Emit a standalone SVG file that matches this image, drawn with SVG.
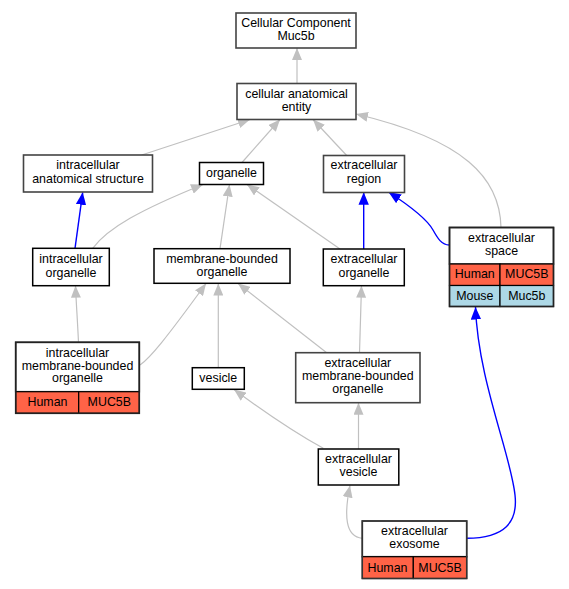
<svg xmlns="http://www.w3.org/2000/svg" width="569" height="589" viewBox="0 0 569 589">
<style>
text{font-family:"Liberation Sans",Arial,sans-serif;font-size:12.4px;fill:#000;text-anchor:middle}
.b{fill:#fff;stroke:#000;stroke-width:1.5}
.g{fill:#fff;stroke:#444;stroke-width:1.6}
.h{fill:#ff6347;stroke:#000;stroke-width:1.2}
.m{fill:#add8e6;stroke:#000;stroke-width:1.2}
.eg{fill:none;stroke:#c0c0c0;stroke-width:1.2}
.eb{fill:none;stroke:#0000ff;stroke-width:1.4}
</style>
<defs>
<marker id="ag" viewBox="0 0 12 10" refX="12" refY="5" markerWidth="12" markerHeight="10" markerUnits="userSpaceOnUse" orient="auto"><path d="M0,0L12,5L0,10z" fill="#c0c0c0"/></marker>
<marker id="ab" viewBox="0 0 12 10" refX="12" refY="5" markerWidth="12.5" markerHeight="10.5" markerUnits="userSpaceOnUse" orient="auto"><path d="M0,0L12,5L0,10z" fill="#0000ff"/></marker>
</defs>
<rect width="569" height="589" fill="#fff"/>
<g id="edges">
<path class="eg" marker-end="url(#ag)" d="M297,83.5L297,48"/>
<path class="eg" marker-end="url(#ag)" d="M141.7,155L250,119.5"/>
<path class="eg" marker-end="url(#ag)" d="M242,162.5L280,119.5"/>
<path class="eg" marker-end="url(#ag)" d="M346.7,155.5L313,119.5"/>
<path class="eg" marker-end="url(#ag)" d="M501,227.5C500,178 465,140 356,114"/>
<path class="eb" marker-end="url(#ab)" d="M75,248.3L82.7,192.3"/>
<path class="eg" marker-end="url(#ag)" d="M92.7,248.3C108,228 140,210 203,184.5"/>
<path class="eg" marker-end="url(#ag)" d="M220,248.7L229.5,184.5"/>
<path class="eg" marker-end="url(#ag)" d="M340,249L247,184.5"/>
<path class="eb" marker-end="url(#ab)" d="M363.7,249L363.7,192.3"/>
<path class="eb" marker-end="url(#ab)" d="M449.3,245C441,245 437,237 433,230C427,219 410,206 388.5,192"/>
<path class="eg" marker-end="url(#ag)" d="M78.5,342.3C77.5,320 76,300 75.5,285.7"/>
<path class="eg" marker-end="url(#ag)" d="M140,365C150,358 165,340 206,283.5"/>
<path class="eg" marker-end="url(#ag)" d="M218.3,367.7L218.3,283.5"/>
<path class="eg" marker-end="url(#ag)" d="M326.7,352.7L238,283.5"/>
<path class="eg" marker-end="url(#ag)" d="M359.5,352.7L361.5,285.7"/>
<path class="eg" marker-end="url(#ag)" d="M323.3,448.3C290,430 255,405 234,389.5"/>
<path class="eg" marker-end="url(#ag)" d="M358.5,449L358.5,402.7"/>
<path class="eg" marker-end="url(#ag)" d="M362.3,538.3C345,537 344,515 350,485.5"/>
<path class="eb" marker-end="url(#ab)" d="M466.7,538.3C505,538 518,522 515,495C511,455 478,380 475.5,307"/>
</g>
<g id="cc"><rect class="g" x="236" y="13" width="120" height="35"/><text x="296" y="26.8">Cellular Component</text><text x="296" y="39.5">Muc5b</text></g>
<g id="cae"><rect class="g" x="237" y="83.5" width="119" height="36"/><text x="296.5" y="97.7">cellular anatomical</text><text x="296.5" y="111">entity</text></g>
<g id="ias"><rect class="g" x="23.5" y="155" width="129" height="37"/><text x="88" y="169.3">intracellular</text><text x="88" y="182.7">anatomical structure</text></g>
<g id="organelle"><rect class="b" x="199.5" y="162.5" width="64" height="22"/><text x="231.5" y="176.7">organelle</text></g>
<g id="er"><rect class="g" x="323.5" y="155.5" width="81" height="37"/><text x="364" y="169.3">extracellular</text><text x="364" y="182.7">region</text></g>
<g id="es"><rect class="g" x="449.5" y="227.5" width="104" height="36.5"/><text x="501.5" y="242">extracellular</text><text x="501.5" y="255.3">space</text>
<rect class="h" x="449.5" y="264" width="50.5" height="21.5"/><rect class="h" x="500" y="264" width="53.5" height="21.5"/><text x="474.8" y="278">Human</text><text x="526.8" y="278">MUC5B</text>
<rect class="m" x="449.5" y="285.5" width="50.5" height="21"/><rect class="m" x="500" y="285.5" width="53.5" height="21"/><text x="474.8" y="299.5">Mouse</text><text x="526.8" y="299.5">Muc5b</text>
<rect x="449.5" y="227.5" width="104" height="79" fill="none" stroke="#222" stroke-width="1.6"/></g>
<g id="io"><rect class="b" x="32.7" y="248.3" width="76.6" height="37.4"/><text x="71" y="262.7">intracellular</text><text x="71" y="276.7">organelle</text></g>
<g id="mbo"><rect class="b" x="154" y="248.7" width="136" height="34.6"/><text x="222" y="262.7">membrane-bounded</text><text x="222" y="276">organelle</text></g>
<g id="eo"><rect class="b" x="323.3" y="249" width="81" height="36.7"/><text x="364" y="262.7">extracellular</text><text x="364" y="276.7">organelle</text></g>
<g id="imbo"><rect class="g" x="15.7" y="342.3" width="123.6" height="49.4"/><text x="77.5" y="356.7">intracellular</text><text x="77.5" y="369.5">membrane-bounded</text><text x="77.5" y="382.3">organelle</text>
<rect class="h" x="15.7" y="391.7" width="63" height="21.6"/><rect class="h" x="78.7" y="391.7" width="60.6" height="21.6"/><text x="47.5" y="406">Human</text><text x="109.3" y="406">MUC5B</text>
<rect x="15.7" y="342.3" width="123.6" height="71" fill="none" stroke="#222" stroke-width="1.6"/></g>
<g id="vesicle"><rect class="b" x="192.3" y="367.7" width="52" height="21.6"/><text x="218.3" y="382">vesicle</text></g>
<g id="embo"><rect class="g" x="295.7" y="352.7" width="124.3" height="50"/><text x="357.8" y="367.3">extracellular</text><text x="357.8" y="380.3">membrane-bounded</text><text x="357.8" y="393.3">organelle</text></g>
<g id="ev"><rect class="b" x="318.3" y="449" width="80.5" height="36"/><text x="358.5" y="462.7">extracellular</text><text x="358.5" y="476">vesicle</text></g>
<g id="exo"><rect class="g" x="362.3" y="521" width="104.4" height="35.7"/><text x="414.5" y="535">extracellular</text><text x="414.5" y="548.3">exosome</text>
<rect class="h" x="362.3" y="556.7" width="51" height="21.8"/><rect class="h" x="413.3" y="556.7" width="53.4" height="21.8"/><text x="387.5" y="571.5">Human</text><text x="440" y="571.5">MUC5B</text>
<rect x="362.3" y="521" width="104.4" height="57.5" fill="none" stroke="#333" stroke-width="1.5"/></g>
</svg>
